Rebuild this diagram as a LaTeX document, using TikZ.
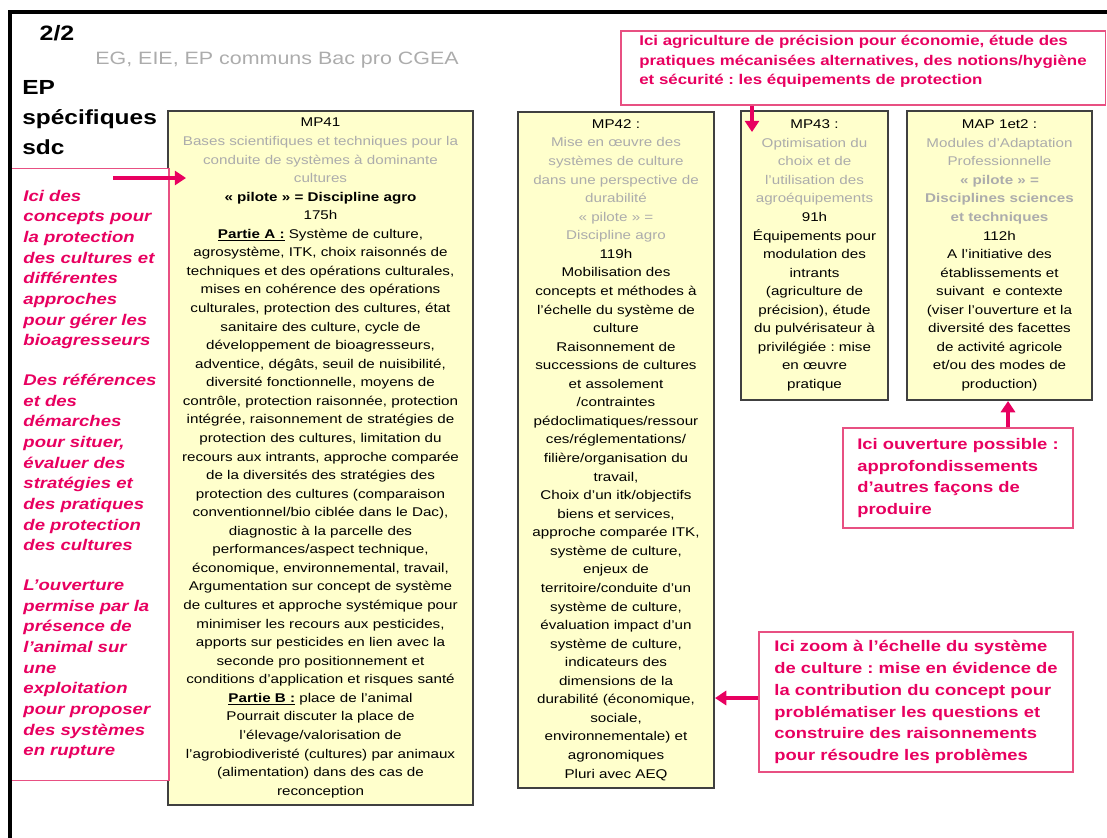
\documentclass[tikz,border=0pt]{standalone}
\usepackage{fontspec}
\setmainfont{Liberation Sans}[FakeStretch=1.2]
\usetikzlibrary{arrows.meta}
\definecolor{notepink}{RGB}{232,0,96}
\definecolor{noteline}{RGB}{232,80,130}
\definecolor{modfill}{RGB}{255,255,204}
\definecolor{modgray}{RGB}{172,172,172}
\newcommand{\gr}[1]{\textcolor{modgray}{#1}}
\frenchspacing
\begin{document}
\begin{tikzpicture}[
    x=0.025cm, y=-0.025cm,
    module/.style={draw=black!75, line width=0.9pt, fill=modfill, align=center,
                   inner sep=0pt, font=\fontsize{9}{13.2}\selectfont},
    note/.style={draw=noteline, line width=0.8pt, fill=white, text=notepink,
                 align=left, inner sep=0pt, font=\bfseries\fontsize{10.9}{15.6}\selectfont},
    pinkarrow/.style={-{Triangle[length=8pt,width=10pt]}, draw=notepink, line width=2.2pt},
  ]
  \useasboundingbox (0,0) rectangle (1107,837);
  \clip (0,0) rectangle (1107,837);

  % titles
  \node[font=\bfseries\fontsize{14.8}{17}\selectfont] (page) at (57,33) {2/2};
  \node[text=modgray, font=\fontsize{12.7}{15}\selectfont] (common) at (277,60)
    {EG, EIE, EP communs Bac pro CGEA};
  \node[font=\bfseries\fontsize{14.5}{21.3}\selectfont, align=left, anchor=west, inner sep=0pt]
    (spec) at (22,118) {EP\\spécifiques\\sdc};

  % modules
  \node[module, minimum width=7.625cm, minimum height=17.35cm] (mp41) at (320.5,458) {MP41\\
    \gr{Bases scientifiques et techniques pour la}\\
    \gr{conduite de systèmes à dominante}\\
    \gr{cultures}\\
    \textbf{« pilote » = Discipline agro}\\
    175h\\
    \textbf{\underline{Partie A :}} Système de culture,\\
    agrosystème, ITK, choix raisonnés de\\
    techniques et des opérations culturales,\\
    mises en cohérence des opérations\\
    culturales, protection des cultures, état\\
    sanitaire des culture, cycle de\\
    développement de bioagresseurs,\\
    adventice, dégâts, seuil de nuisibilité,\\
    diversité fonctionnelle, moyens de\\
    contrôle, protection raisonnée, protection\\
    intégrée, raisonnement de stratégies de\\
    protection des cultures, limitation du\\
    recours aux intrants, approche comparée\\
    de la diversités des stratégies des\\
    protection des cultures (comparaison\\
    conventionnel/bio ciblée dans le Dac),\\
    diagnostic à la parcelle des\\
    performances/aspect technique,\\
    économique, environnemental, travail,\\
    Argumentation sur concept de système\\
    de cultures et approche systémique pour\\
    minimiser les recours aux pesticides,\\
    apports sur pesticides en lien avec la\\
    seconde pro positionnement et\\
    conditions d’application et risques santé\\
    \textbf{\underline{Partie B :}} place de l’animal\\
    Pourrait discuter la place de\\
    l’élevage/valorisation de\\
    l’agrobiodiveristé (cultures) par animaux\\
    (alimentation) dans des cas de\\
    reconception};
  \node[module, minimum width=4.9cm, minimum height=16.9cm] (mp42) at (616,450) {MP42 :\\
    \gr{Mise en œuvre des}\\
    \gr{systèmes de culture}\\
    \gr{dans une perspective de}\\
    \gr{durabilité}\\
    \gr{« pilote » =}\\
    \gr{Discipline agro}\\
    119h\\
    Mobilisation des\\
    concepts et méthodes à\\
    l’échelle du système de\\
    culture\\
    Raisonnement de\\
    successions de cultures\\
    et assolement\\
    /contraintes\\
    pédoclimatiques/ressour\\
    ces/réglementations/\\
    filière/organisation du\\
    travail,\\
    Choix d’un itk/objectifs\\
    biens et services,\\
    approche comparée ITK,\\
    système de culture,\\
    enjeux de\\
    territoire/conduite d’un\\
    système de culture,\\
    évaluation impact d’un\\
    système de culture,\\
    indicateurs des\\
    dimensions de la\\
    durabilité (économique,\\
    sociale,\\
    environnementale) et\\
    agronomiques\\
    Pluri avec AEQ};
  \node[module, minimum width=3.675cm, minimum height=7.225cm] (mp43) at (814.5,255.5) {MP43 :\\
    \gr{Optimisation du}\\
    \gr{choix et de}\\
    \gr{l’utilisation des}\\
    \gr{agroéquipements}\\
    91h\\
    Équipements pour\\
    modulation des\\
    intrants\\
    (agriculture de\\
    précision), étude\\
    du pulvérisateur à\\
    privilégiée : mise\\
    en œuvre\\
    pratique};
  \node[module, minimum width=4.625cm, minimum height=7.225cm] (map) at (999.5,255.5) {MAP 1et2 :\\
    \gr{Modules d’Adaptation}\\
    \gr{Professionnelle}\\
    \gr{\textbf{« pilote » =}}\\
    \gr{\textbf{Disciplines sciences}}\\
    \gr{\textbf{et techniques}}\\
    112h\\
    A l’initiative des\\
    établissements et\\
    suivant\ \ e contexte\\
    (viser l’ouverture et la\\
    diversité des facettes\\
    de activité agricole\\
    et/ou des modes de\\
    production)};

  % pink notes
  \node[note, minimum width=12.1cm, minimum height=1.85cm,
        font=\bfseries\fontsize{10}{13.9}\selectfont] (topnote) at (863,68)
    {Ici agriculture de précision pour économie, étude des\\
     pratiques mécanisées alternatives, des notions/hygiène\\
     et sécurité : les équipements de protection\rule[-11pt]{0pt}{0pt}};
  \node[note, minimum width=3.95cm, minimum height=15.275cm,
        font=\bfseries\itshape\fontsize{11}{14.7}\selectfont] (leftnote) at (90,474.5)
    {Ici des\\ concepts pour\\ la protection\\ des cultures et\\ différentes\\
     approches\\ pour gérer les\\ bioagresseurs\\[13.5pt]
     Des références\\ et des\\ démarches\\ pour situer,\\ évaluer des\\
     stratégies et\\ des pratiques\\ de protection\\ des cultures\\[13.5pt]
     L’ouverture\\ permise par la\\ présence de\\ l’animal sur\\ une\\
     exploitation\\ pour proposer\\ des systèmes\\ en rupture};
  \node[note, minimum width=5.75cm, minimum height=2.5cm] (opennote) at (958,478)
    {Ici ouverture possible :\\ approfondissements\\ d’autres façons de\\ produire};
  \node[note, minimum width=7.85cm, minimum height=3.5cm] (zoomnote) at (916,702)
    {Ici zoom à l’échelle du système\\ de culture : mise en évidence de\\
     la contribution du concept pour\\ problématiser les questions et\\
     construire des raisonnements\\ pour résoudre les problèmes};

  % arrows
  \coordinate (in43) at (752,132);
  \coordinate (tail41) at (113,178);
  \coordinate (in41) at (186,178);
  \coordinate (inmap) at (1008,401);
  \coordinate (in42) at (715,698);
  \draw[pinkarrow] (topnote.south -| in43) -- (in43);
  \draw[pinkarrow] (tail41) -- (in41);
  \draw[pinkarrow] (opennote.north -| inmap) -- (inmap);
  \draw[pinkarrow] (zoomnote.west |- in42) -- (in42);

  % frame
  \draw[line width=2.2pt] (10,12) rectangle (1140,870);
\end{tikzpicture}
\end{document}
